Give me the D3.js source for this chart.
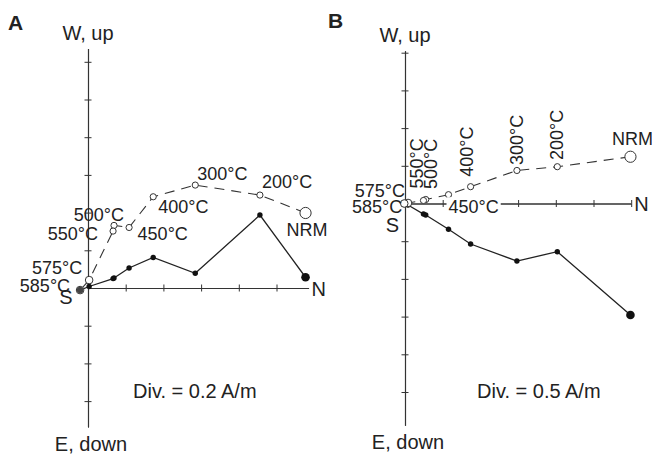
<!DOCTYPE html>
<html>
<head>
<meta charset="utf-8">
<script src="https://cdn.jsdelivr.net/npm/d3@7"></script>
<style>
  body { margin: 0; background: #fff; }
  svg text { font-family: "Liberation Sans", Arial, Helvetica, sans-serif; fill: #222; }
</style>
</head>
<body>
<div id="chart"></div>
<script>
// demagnetization steps, same order in both panels
const steps = ["NRM", "200°C", "300°C", "400°C", "450°C", "500°C", "550°C", "575°C", "585°C"];

// panel A (A/m): north component, up component (open), east component (solid, down = +)
const northA = [1.154, 0.912, 0.569, 0.346, 0.218, 0.138, 0.133, 0.006, -0.042];
const upA = [0.398, 0.493, 0.546, 0.484, 0.321, 0.332, 0.302, 0.042, -0.011];
const eastA = [-0.057, -0.387, -0.078, -0.162, -0.106, -0.053, -0.05, -0.008, 0.011];

// panel B (A/m)
const northB = [2.99, 2.02, 1.484, 0.87, 0.577, 0.275, 0.245, 0.04, -0.01];
const upB = [0.62, 0.488, 0.438, 0.223, 0.117, 0.053, 0.04, 0.007, 0.0];
const eastB = [1.479, 0.639, 0.763, 0.537, 0.342, 0.153, 0.14, 0.02, 0.007];

const panelNames = ["A", "B"];
const divSizes = [0.2, 0.5];
const divLabels = ["Div. = 0.2 A/m", "Div. = 0.5 A/m"];

const width = 652;
const height = 454;
const pxPerDiv = 37.7;

// layout of each panel (pixels / divisions)
const layouts = [
  {
    ox: 88, oy: 288, xMax: 5.85, yTop: 6.35, yBottom: 3.69,
    xTicks: 5, upTicks: 6, downTicks: 3,
    letter: [8, 30], sLabel: [-22, 15.5], divLabel: [45, 110],
    solidOnTop: true,
    // [dx, dy, anchor, rotate, knockout]
    labels: [
      [-19, 23, "start"], [2, -7, "start"], [2, -5, "start"], [5, 16, "start"],
      [8.5, 12.5, "start"], [10, -4, "end"], [-15, 8.5, "end"], [-7, -6.5, "end"], [-10, 2, "end"]
    ]
  },
  {
    ox: 405, oy: 203.5, xMax: 6, yTop: 4.05, yBottom: 5.88,
    xTicks: 6, upTicks: 4, downTicks: 5,
    letter: [328, 27.5], sLabel: [-12.5, 28], divLabel: [72, 194],
    solidOnTop: false,
    labels: [
      [-18.5, -12, "start"], [6, -6.7, "start", true], [6.5, -5.5, "start", true], [2.7, -10, "start", true],
      [0, 18.5, "start", false, true], [11.5, -10.5, "start", true], [-0.5, -12, "start", true],
      [-3, -5.5, "end"], [-2, 9.5, "end"]
    ]
  }
];

const svg = d3.select("#chart").append("svg")
  .attr("width", width)
  .attr("height", height);

function drawPanel(i, north, up, east) {
  const L = layouts[i];
  const div = divSizes[i];
  const g = svg.append("g").attr("class", "panel");

  const x = d3.scaleLinear()
    .domain([0, L.xMax * div])
    .range([L.ox, L.ox + L.xMax * pxPerDiv]);
  const y = d3.scaleLinear()
    .domain([-L.yBottom * div, L.yTop * div])
    .range([L.oy + L.yBottom * pxPerDiv, L.oy - L.yTop * pxPerDiv]);

  const xTickValues = d3.range(1, L.xTicks + 1).map(k => k * div);
  const yTickValues = d3.range(-L.downTicks, L.upTicks + 1).filter(k => k !== 0).map(k => k * div);

  // axes, ticks crossing the line
  [d3.axisBottom, d3.axisTop].forEach(ax => {
    g.append("g")
      .attr("transform", `translate(0,${L.oy})`)
      .attr("color", "#333")
      .call(ax(x).tickValues(xTickValues).tickSize(3.5).tickSizeOuter(0).tickFormat(""));
  });
  [d3.axisLeft, d3.axisRight].forEach(ax => {
    g.append("g")
      .attr("transform", `translate(${L.ox},0)`)
      .attr("color", "#333")
      .call(ax(y).tickValues(yTickValues).tickSize(3.5).tickSizeOuter(0).tickFormat(""));
  });
  g.selectAll(".domain").attr("stroke-width", 1.1);

  const idx = d3.range(steps.length);

  const solidLine = d3.line().x(k => x(north[k])).y(k => y(-east[k]));
  const openLine = d3.line().x(k => x(north[k])).y(k => y(up[k]));

  g.append("path")
    .attr("d", solidLine(idx))
    .attr("fill", "none")
    .attr("stroke", "#222")
    .attr("stroke-width", 1.3);

  g.append("path")
    .attr("d", openLine(idx))
    .attr("fill", "none")
    .attr("stroke", "#333")
    .attr("stroke-width", 1.1)
    .attr("stroke-dasharray", "10,7");

  const drawSolid = () => g.selectAll(".solid")
    .data(idx)
    .enter()
    .append("circle")
    .attr("class", "solid")
    .attr("cx", k => x(north[k]))
    .attr("cy", k => y(-east[k]))
    .attr("r", k => (k === 0 ? 4.3 : k === 8 ? 3.3 : 2.7))
    .attr("fill", k => (k === 8 ? "#444" : "#111"));

  const drawOpen = () => g.selectAll(".open")
    .data(idx)
    .enter()
    .append("circle")
    .attr("class", "open")
    .attr("cx", k => x(north[k]))
    .attr("cy", k => y(up[k]))
    .attr("r", k => (k === 0 ? 5.6 : k >= 7 ? 3.8 : 3.1))
    .attr("fill", "#fff")
    .attr("stroke", "#333")
    .attr("stroke-width", 1);

  if (L.solidOnTop) {
    drawOpen();
    drawSolid();
  } else {
    drawSolid();
    drawOpen();
  }

  // step labels next to the open points
  idx.forEach(k => {
    const [dx, dy, anchor, rotated, knockout] = L.labels[k];
    const px = x(north[k]) + dx;
    const py = y(up[k]) + dy;
    const t = g.append("text")
      .attr("font-size", 18)
      .attr("text-anchor", anchor)
      .attr("transform", rotated ? `translate(${px},${py}) rotate(-90)` : `translate(${px},${py})`)
      .text(steps[k]);
    if (knockout) {
      const b = t.node().getBBox();
      g.insert("rect", () => t.node())
        .attr("x", px + b.x - 2)
        .attr("y", py + b.y)
        .attr("width", b.width + 4)
        .attr("height", b.height)
        .attr("fill", "#fff");
    }
  });

  // axis names
  g.append("text")
    .attr("x", L.ox)
    .attr("y", y.range()[1] - 9)
    .attr("text-anchor", "middle")
    .attr("font-size", 20)
    .text("W, up");

  g.append("text")
    .attr("x", L.ox + 3)
    .attr("y", y.range()[0] + 23.5)
    .attr("text-anchor", "middle")
    .attr("font-size", 20)
    .text("E, down");

  g.append("text")
    .attr("x", x.range()[1] + 3)
    .attr("y", L.oy + 7.5)
    .attr("font-size", 20)
    .text("N");

  g.append("text")
    .attr("x", L.ox + L.sLabel[0])
    .attr("y", L.oy + L.sLabel[1])
    .attr("text-anchor", "middle")
    .attr("font-size", 20)
    .text("S");

  g.append("text")
    .attr("x", L.ox + L.divLabel[0])
    .attr("y", L.oy + L.divLabel[1])
    .attr("font-size", 20)
    .text(divLabels[i]);

  g.append("text")
    .attr("x", L.letter[0])
    .attr("y", L.letter[1])
    .attr("font-size", 21)
    .attr("font-weight", "bold")
    .text(panelNames[i]);
}

drawPanel(0, northA, upA, eastA);
drawPanel(1, northB, upB, eastB);
</script>
</body>
</html>
